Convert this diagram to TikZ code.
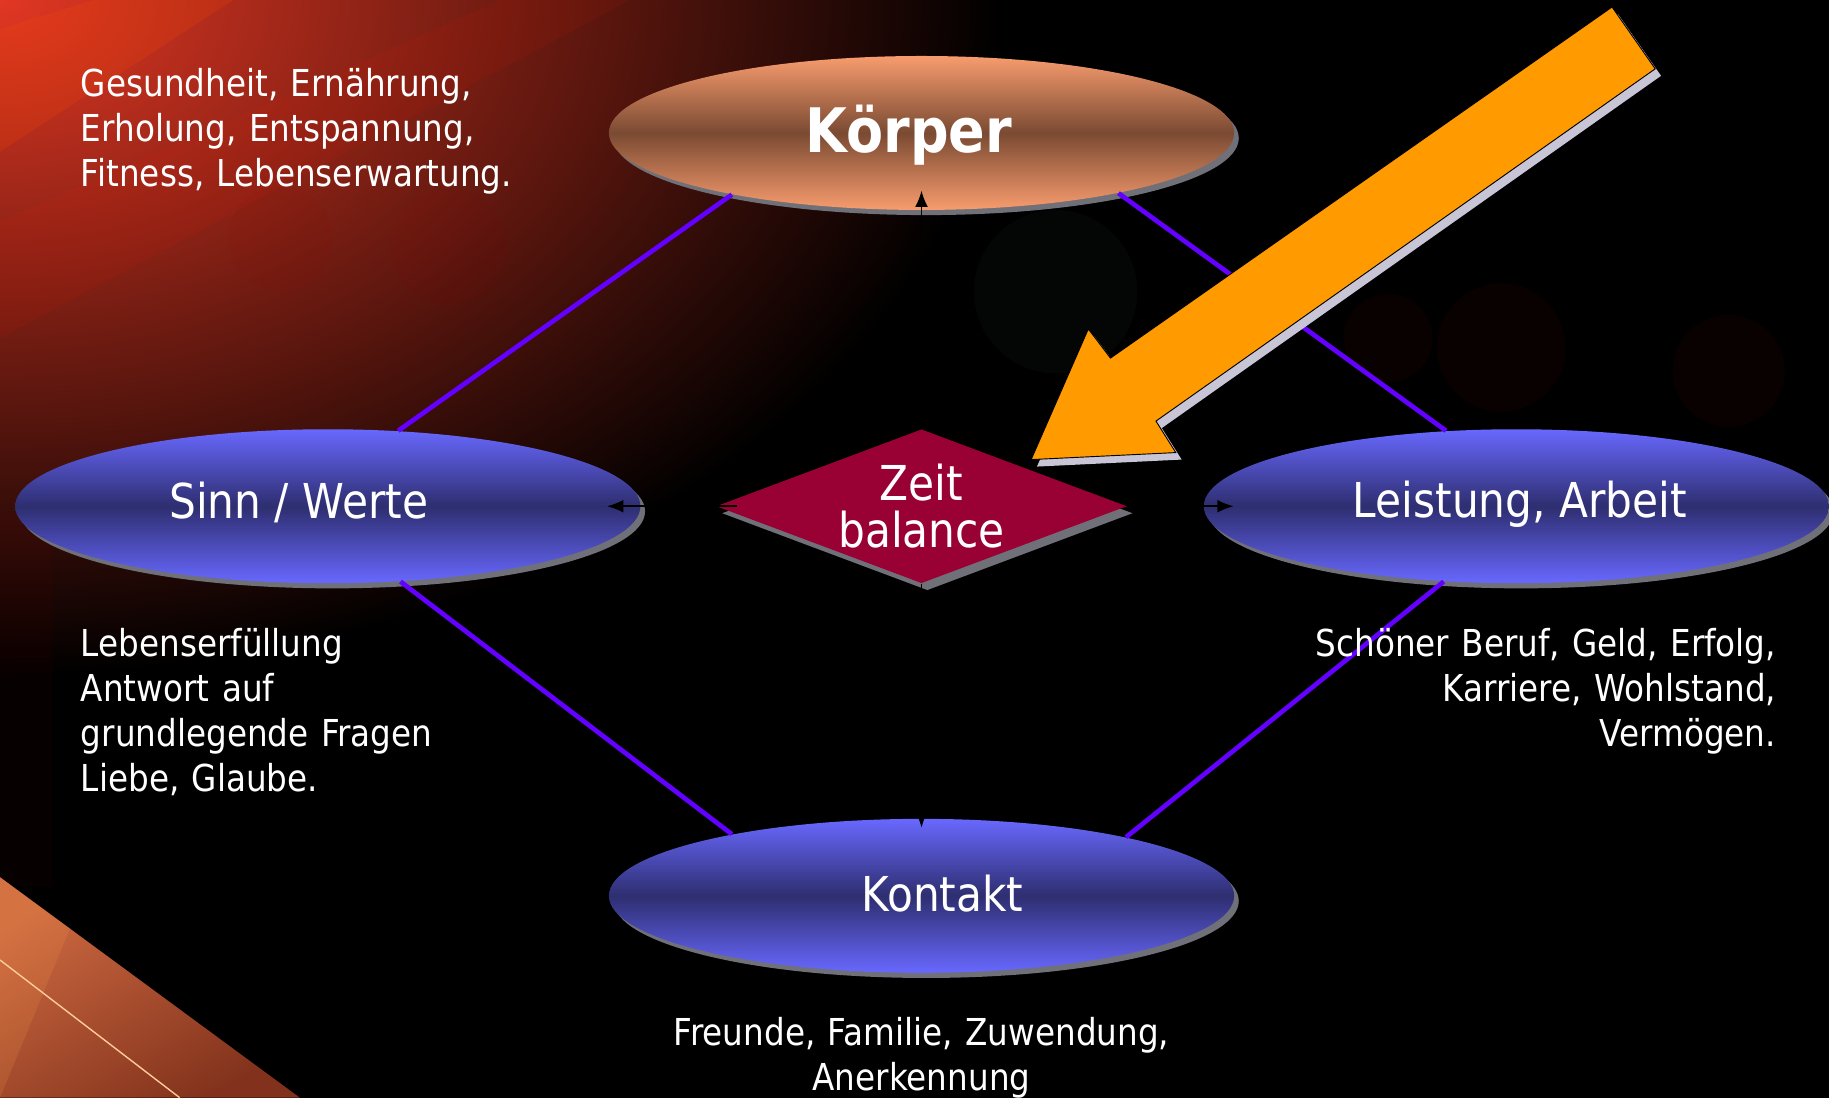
\documentclass[tikz,border=0pt]{standalone}
\usepackage{fontspec}
\setmainfont{DejaVu Sans}[FakeStretch=0.88]
\usetikzlibrary{shapes.geometric,shadows,calc,arrows.meta}
\definecolor{purp}{RGB}{100,0,255}
\definecolor{blueL}{RGB}{104,104,255}
\definecolor{blueD}{RGB}{46,46,112}
\definecolor{orL}{RGB}{248,156,110}
\definecolor{orD}{RGB}{122,74,50}
\definecolor{zeitc}{RGB}{153,0,51}
\definecolor{shad}{RGB}{112,112,120}
\definecolor{arrowor}{RGB}{255,155,0}
\definecolor{arrowsh}{RGB}{200,198,214}
\definecolor{redglow}{RGB}{225,55,35}
\definecolor{wedgeL}{RGB}{205,105,65}
\definecolor{wedgeD}{RGB}{130,50,28}
\tikzset{
  ellbase/.style={ellipse, minimum width=268pt, minimum height=66pt, inner sep=0pt,
    general shadow={fill=shad, shadow xshift=2pt, shadow yshift=-2.2pt}},
  ellB/.style={ellbase, top color=blueL, bottom color=blueL, middle color=blueD},
  ellK/.style={ellbase, top color=orL, bottom color=orL, middle color=orD},
  zeitbox/.style={diamond, minimum width=176pt, minimum height=66pt, inner sep=0pt, fill=zeitc,
    general shadow={fill=shad, shadow xshift=2.5pt, shadow yshift=-3pt}},
  conn/.style={draw=purp, line width=2pt},
  blk/.style={draw=black, line width=0.8pt, -{Latex[length=7pt,width=5.5pt]}},
  txt/.style={text=white, inner sep=0pt, font=\fontsize{15.9}{19.25}\selectfont},
  lbl/.style={text=white, inner sep=0pt, font=\fontsize{20.6}{20}\selectfont},
  bokeh/.style={fill=red!60!black, opacity=0.06}
}
\begin{document}
\begin{tikzpicture}[x=0.5pt,y=-0.5pt]
\useasboundingbox (0,0) rectangle (1568,941);
\clip (0,0) rectangle (1568,941);
% background
\fill[black] (0,0) rectangle (1568,941);
\shade[inner color=redglow, outer color=black] (0,0) ellipse (860 and 580);
\fill[orange!60!red, opacity=0.18] (0,25) -- (80,0) -- (200,0) -- (0,130) -- cycle;
\fill[red!80!orange, opacity=0.07] (0,190) -- (430,0) -- (540,0) -- (0,290) -- cycle;
\fill[red!50!black, opacity=0.06] (0,440) rectangle (45,760);
\fill[bokeh] (240,205) circle (45);
\fill[bokeh] (385,212) circle (50);
\fill[bokeh] (1190,290) circle (38);
\fill[bokeh] (1287,298) circle (55);
\fill[bokeh] (1482,318) circle (48);
\fill[cyan!30!black, opacity=0.06] (905,250) circle (70);
\shade[top color=wedgeL, bottom color=wedgeD, shading angle=30] (0,752) -- (257,941) -- (0,941) -- cycle;
\fill[orange!70!white, opacity=0.15] (0,752) -- (60,796) -- (0,941) -- cycle;
\draw[orange!40!white, line width=0.6pt] (0,823) -- (154,941);

% nodes
\node[ellK] (koerper) at (790,114) {};
\node[ellB] (sinn) at (281,434) {};
\node[ellB] (leistung) at (1300,434) {};
\node[ellB] (kontakt) at (790,768) {};
\node[zeitbox] (zeit) at (790,434) {};

% connectors
\draw[conn] (koerper.198.7) -- (sinn.47.3);
\draw[conn] (koerper.-17.8) -- (leistung.133.2);
\draw[conn] (sinn.-46.7) -- (kontakt.162.2);
\draw[conn] (leistung.226.3) -- (kontakt.16.8);

% black arrows
\draw[blk] (zeit.north) -- ($(koerper.south)+(0,-17)$);
\draw[blk] ($(zeit.west)+(18,0)$) -- ($(sinn.east)+(-29,0)$);
\draw[blk] (zeit.east) -- ($(leistung.west)+(26,0)$);
\draw[blk] (zeit.south) -- ($(kontakt.north)+(0,8)$);

% orange block arrow
\fill[arrowsh] (1387,12) -- (1424,65) -- (996,367) -- (1013,394) -- (889,400) -- (938,288) -- (957,313) -- cycle;
\filldraw[fill=arrowor, draw=black, line width=0.4pt] (1382,6) -- (1419,59) -- (991,361) -- (1008,388) -- (884,394) -- (933,282) -- (952,307) -- cycle;

% labels
\node[lbl, font=\bfseries\fontsize{26.3}{30}\selectfont] (koerperT) at (779,116) {Körper};
\node[lbl] (sinnT) at (256,431) {Sinn / Werte};
\node[lbl] (leistungT) at (1303,432) {Leistung, Arbeit};
\node[lbl] (kontaktT) at (808,766) {Kontakt};
\node[lbl, align=center, text width=120pt] (zeitT) at (790,434) {Zeit\\balance};

% texts
\node[txt, anchor=base west, text width=230pt, align=left] (tK) at (69,83) {Gesundheit, Ernährung,\\Erholung, Entspannung,\\Fitness, Lebenserwartung.};
\node[txt, anchor=base west, text width=230pt, align=left] (tS) at (69,563) {Lebenserfüllung\\Antwort auf\\grundlegende Fragen\\Liebe, Glaube.};
\node[txt, anchor=base east, text width=230pt, align=right] (tL) at (1523,563) {Schöner Beruf, Geld, Erfolg,\\Karriere, Wohlstand,\\Vermögen.};
\node[txt, anchor=base, text width=270pt, align=center] (tKo) at (790,896) {Freunde, Familie, Zuwendung,\\Anerkennung};
\end{tikzpicture}
\end{document}
